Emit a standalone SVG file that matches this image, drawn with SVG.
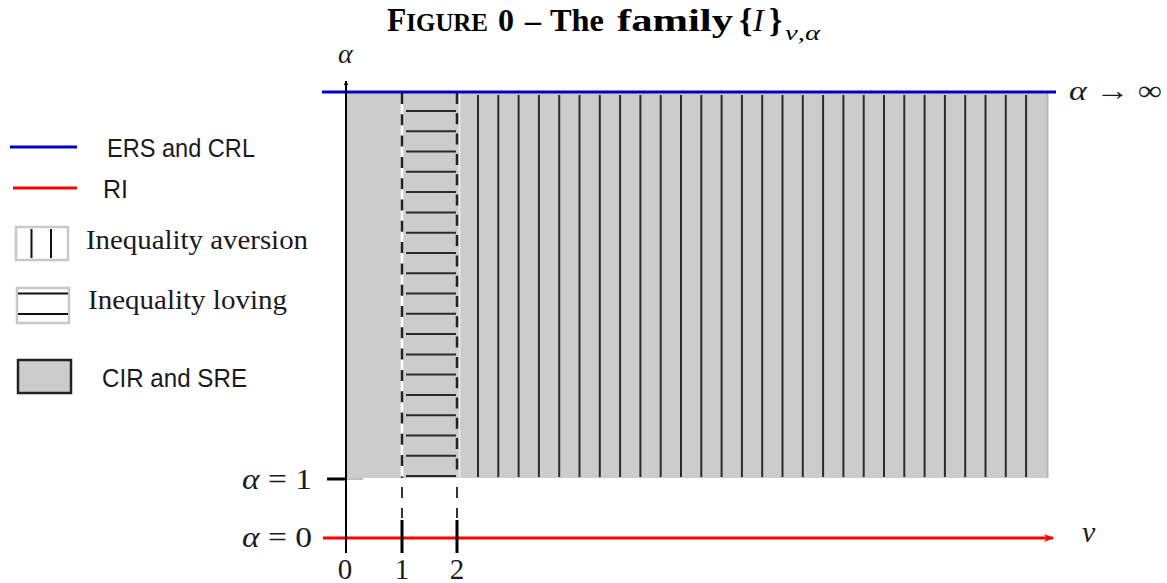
<svg xmlns="http://www.w3.org/2000/svg" width="1167" height="583" viewBox="0 0 1167 583">
<style>
.serif{font-family:"Liberation Serif","DejaVu Serif",serif;fill:#1a1a1a}
.sans{font-family:"Liberation Sans",Arial,sans-serif;fill:#1a1a1a}
.ttl{font-family:"Liberation Serif","DejaVu Serif",serif;font-weight:bold;fill:#000}
.hatch{stroke:#2a2a2a;stroke-width:2;fill:none}
.dash{stroke:#222;stroke-width:2.5;fill:none}
.lbox{fill:#fff;stroke:#c8c8c8;stroke-width:2.5}
</style>
<defs>
<marker id="arrK" viewBox="0 0 10 10" refX="9" refY="5" markerWidth="5" markerHeight="5" orient="auto" markerUnits="userSpaceOnUse">
<path d="M0,0 L10,5 L0,10 L3,5 Z" fill="#000"/>
</marker>
<marker id="arrR" viewBox="0 0 10 10" refX="9" refY="5" markerWidth="12" markerHeight="10" orient="auto" markerUnits="userSpaceOnUse">
<path d="M0,1 L10,5 L0,9 L3,5 Z" fill="#f00"/>
</marker>
</defs>
<rect width="1167" height="583" fill="#fff"/>

<g id="title">
<text class="ttl" x="387" y="31" font-size="33" textLength="101" lengthAdjust="spacingAndGlyphs">F<tspan font-size="26">IGURE</tspan></text>
<text class="ttl" x="498" y="31" font-size="32">0</text>
<text class="ttl" x="525" y="31" font-size="32">–</text>
<text class="ttl" x="550" y="31" font-size="32" textLength="54" lengthAdjust="spacingAndGlyphs">The</text>
<text class="ttl" x="617" y="31" font-size="32" textLength="116" lengthAdjust="spacingAndGlyphs">family</text>
<text class="ttl" x="739" y="32" font-size="34">{</text>
<text x="753" y="31" font-size="32" font-style="italic" font-family="Liberation Serif,serif" fill="#000">I</text>
<text class="ttl" x="769" y="32" font-size="34">}</text>
<text x="785" y="40" font-size="21" font-style="italic" font-family="Liberation Serif,serif" fill="#000" textLength="35" lengthAdjust="spacingAndGlyphs">ν,α</text>
</g>

<g id="region-cir-sre">
<rect x="347" y="93" width="701" height="385" fill="#cccccc"/>
<line x1="1047.5" y1="93" x2="1047.5" y2="478" stroke="#b4b4b4" stroke-width="2"/>
<line x1="346" y1="479" x2="363" y2="479" stroke="#aaa" stroke-width="1.5"/>
</g>

<g id="region-loving">
<line x1="402" y1="93" x2="402" y2="478" stroke="#fff" stroke-width="2.5"/>
<line x1="459.5" y1="93" x2="459.5" y2="478" stroke="#ececec" stroke-width="1.5"/>
<path class="hatch" d="M406,111H456M406,131.3H456M406,151.6H456M406,171.8H456M406,192.1H456M406,212.4H456M406,232.7H456M406,253H456M406,273.2H456M406,293.5H456M406,313.8H456M406,334.1H456M406,354.4H456M406,374.6H456M406,394.9H456M406,415.2H456M406,435.5H456M406,455.8H456M406,476H456"/>
<line class="dash" x1="402" y1="93" x2="402" y2="478" stroke-dasharray="11 10.3"/>
<line class="dash" x1="457" y1="93" x2="457" y2="478" stroke-dasharray="11 9.3"/>
</g>

<g id="region-aversion">
<path class="hatch" d="M478,95V477M498.3,95V477M518.6,95V477M538.9,95V477M559.2,95V477M579.5,95V477M599.8,95V477M620.1,95V477M640.4,95V477M660.7,95V477M681,95V477M701.3,95V477M721.6,95V477M741.9,95V477M762.2,95V477M782.5,95V477M802.8,95V477M823.1,95V477M843.4,95V477M863.7,95V477M884,95V477M904.3,95V477M924.6,95V477M944.9,95V477M965.2,95V477M985.5,95V477M1005.8,95V477M1026.1,95V477"/>
</g>

<g id="connectors">
<line x1="322" y1="92" x2="1056" y2="92" stroke="#0000cc" stroke-width="3"/>
<line x1="323" y1="538" x2="1053" y2="538" stroke="#f00" stroke-width="3" marker-end="url(#arrR)"/>
<line x1="346" y1="553" x2="346" y2="81" stroke="#000" stroke-width="2" marker-end="url(#arrK)"/>
<line x1="327" y1="479" x2="347" y2="479" stroke="#000" stroke-width="3"/>
<path d="M402,487V498M402,508V518M457,487V498M457,508V518" stroke="#333" stroke-width="2"/>
<path d="M402,520V553M457,520V553" stroke="#000" stroke-width="3"/>
</g>

<g id="axis-labels">
<text class="serif" x="338" y="63" font-size="28" font-style="italic">α</text>
<text class="serif" x="1069" y="100" font-size="28" textLength="93" lengthAdjust="spacingAndGlyphs"><tspan font-style="italic">α</tspan> → ∞</text>
<text class="serif" x="1082" y="542" font-size="30" font-style="italic">ν</text>
<text class="serif" x="242" y="489" font-size="30" textLength="70" lengthAdjust="spacingAndGlyphs"><tspan font-style="italic">α</tspan> = 1</text>
<text class="serif" x="242" y="547" font-size="30" textLength="70" lengthAdjust="spacingAndGlyphs"><tspan font-style="italic">α</tspan> = 0</text>
<text class="serif" x="345" y="579" font-size="29" text-anchor="middle">0</text>
<text class="serif" x="402" y="579" font-size="29" text-anchor="middle">1</text>
<text class="serif" x="457" y="579" font-size="29" text-anchor="middle">2</text>
</g>

<g id="legend-ers-crl">
<line x1="10" y1="147" x2="77" y2="147" stroke="#0000cc" stroke-width="3"/>
<text class="sans" x="107" y="157" font-size="25" textLength="148" lengthAdjust="spacingAndGlyphs">ERS and CRL</text>
</g>
<g id="legend-ri">
<line x1="13" y1="188" x2="77" y2="188" stroke="#f00" stroke-width="3"/>
<text class="sans" x="103" y="198" font-size="25" textLength="25" lengthAdjust="spacingAndGlyphs">RI</text>
</g>
<g id="legend-aversion">
<rect class="lbox" x="16" y="227" width="52" height="33"/>
<path d="M31.5,229V258M51,229V258" stroke="#111" stroke-width="2"/>
<text class="serif" x="86" y="249" font-size="27" textLength="222" lengthAdjust="spacingAndGlyphs">Inequality aversion</text>
</g>
<g id="legend-loving">
<rect class="lbox" x="17" y="288" width="52" height="35"/>
<path d="M18,293.5H68M18,314H68" stroke="#111" stroke-width="2"/>
<text class="serif" x="88" y="309" font-size="27" textLength="199" lengthAdjust="spacingAndGlyphs">Inequality loving</text>
</g>
<g id="legend-cir-sre">
<rect x="18" y="360" width="53" height="33" fill="#cccccc" stroke="#222" stroke-width="2.5"/>
<text class="sans" x="102" y="387" font-size="25" textLength="145" lengthAdjust="spacingAndGlyphs">CIR and SRE</text>
</g>
</svg>
